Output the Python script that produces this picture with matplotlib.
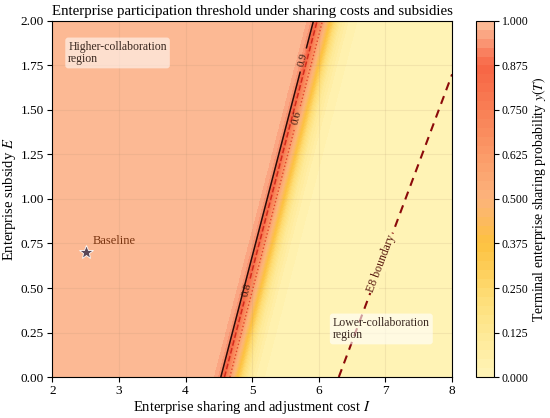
import numpy as np
import matplotlib
matplotlib.use('Agg')
import matplotlib.pyplot as plt
from matplotlib.colors import LinearSegmentedColormap

plt.rcParams['font.family'] = ['Liberation Serif', 'DejaVu Serif']
plt.rcParams['mathtext.fontset'] = 'stix'

# 0.9 threshold line (I at E = 0 and E = 2)
front_E = [0.0, 2.0]
front_I = [4.53, 5.92]

# y(T) across the threshold, by offset in I from the 0.9 line
profile_offset = [-0.60, -0.11, -0.03, 0.00, 0.055, 0.135, 0.19, 0.245, 0.31, 0.40, 0.52, 0.68, 4.0]
profile_y = [0.99, 0.975, 0.94, 0.90, 0.80, 0.60, 0.48, 0.37, 0.24, 0.12, 0.05, 0.02, 0.01]

# E8 boundary end points
e8_I = [6.30, 8.00]
e8_E = [0.00, 1.70]

baseline = (2.5, 0.7)

cbar_ticks = [0.0, 0.125, 0.25, 0.375, 0.5, 0.625, 0.75, 0.875, 1.0]

cmap = LinearSegmentedColormap.from_list('share', [
    (0.0, '#fff4b8'),
    (0.2, '#fee17f'),
    (0.375, '#fdc13f'),
    (0.5, '#fcb47c'),
    (0.625, '#fb9a68'),
    (0.8, '#f8744e'),
    (0.875, '#f76544'),
    (0.95, '#fa9a78'),
    (1.0, '#fdc29c'),
])

I = np.linspace(2, 8, 601)
E = np.linspace(0, 2, 401)
II, EE = np.meshgrid(I, E)
front = np.interp(EE, front_E, front_I)
Y = np.interp(II - front, profile_offset, profile_y)

fig = plt.figure(figsize=(5.5, 4.18), dpi=100)
ax = fig.add_axes([0.095, 0.098, 0.727, 0.852])
cax = fig.add_axes([0.866, 0.098, 0.032, 0.852])

cf = ax.contourf(II, EE, Y, levels=np.linspace(0, 1, 41), cmap=cmap, vmin=0, vmax=1)
ax.grid(True, color='#b09070', alpha=0.15, lw=0.8)

cs = ax.contour(II, EE, Y, levels=[0.6, 0.8, 0.9],
                colors=['#e0452c', '#d42a1c', '#2a0c08'],
                linestyles=[':', '--', '-'], linewidths=[1.0, 1.1, 1.1])
ax.clabel(cs, fmt='%.1f', fontsize=8, colors='#3a1a10', inline=True,
          manual=[(5.70, 1.455), (4.91, 0.49), (5.77, 1.78)])

ax.plot(e8_I, e8_E, color='#8b0a0a', ls=(0, (4, 3)), lw=1.5)
ax.text(6.93, 0.64, 'E8 boundary', rotation=69, fontsize=8.5, color='#5a1a10',
        ha='center', va='center', rotation_mode='anchor',
        bbox=dict(fc='#fff3b6', ec='none', pad=1.0))

ax.plot(*baseline, marker='*', ms=10, color='#5a4858', mec='white', mew=0.6)
ax.text(2.61, 0.765, 'Baseline', fontsize=9, color='#7a3410', va='center')

ax.text(2.24, 1.82, 'Higher-collaboration\nregion', fontsize=8.5, color='#3a2820',
        va='center', linespacing=1.1,
        bbox=dict(boxstyle='round,pad=0.25', fc='white', ec='none', alpha=0.55))
ax.text(6.21, 0.27, 'Lower-collaboration\nregion', fontsize=8.5, color='#3a2820',
        va='center', linespacing=1.1,
        bbox=dict(boxstyle='round,pad=0.25', fc='white', ec='none', alpha=0.6))

ax.set_xlim(2, 8)
ax.set_ylim(0, 2)
ax.set_yticks(np.arange(0, 2.01, 0.25))
ax.set_yticklabels([f'{v:.2f}' for v in np.arange(0, 2.01, 0.25)])
ax.tick_params(labelsize=9.5, length=3.5, pad=2.5)
ax.set_xlabel('Enterprise sharing and adjustment cost $I$', fontsize=10.5, labelpad=1)
ax.set_ylabel('Enterprise subsidy $E$', fontsize=10.5, labelpad=2)
ax.set_title('Enterprise participation threshold under sharing costs and subsidies',
             fontsize=10.7, pad=4)

cb = fig.colorbar(cf, cax=cax, ticks=cbar_ticks)
cb.ax.set_yticklabels([f'{t:.3f}' for t in cbar_ticks])
cb.ax.tick_params(labelsize=8.5, length=3.5, pad=2)
cb.set_label('Terminal enterprise sharing probability $y(T)$', fontsize=10, labelpad=1)

fig.savefig('out.png', dpi=100)
